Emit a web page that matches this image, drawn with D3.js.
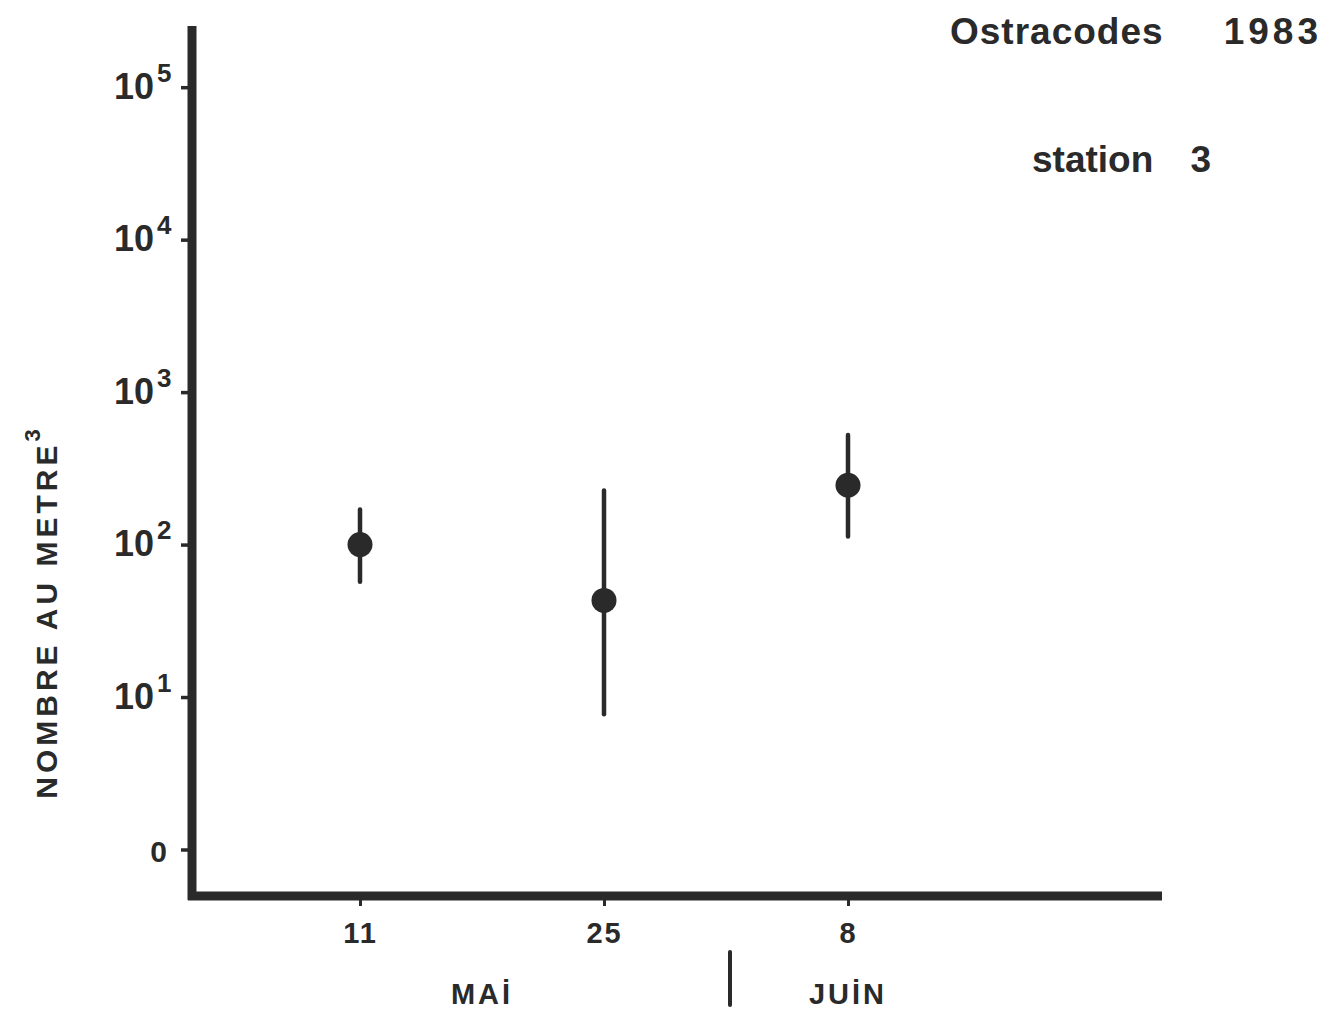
<!DOCTYPE html>
<html>
<head>
<meta charset="utf-8">
<script src="https://cdn.jsdelivr.net/npm/d3@7/dist/d3.min.js"></script>
<style>
  html, body { margin: 0; padding: 0; background: #fff; }
  svg { display: block; }
  text { fill: #2a2a2a; font-family: "Liberation Sans", Arial, sans-serif; font-weight: bold; }
</style>
</head>
<body>
<svg id="chart" width="1325" height="1013"></svg>
<script>
// Sampling dates (1983) and ostracod densities, individuals per m³
const sampleDates = [new Date(1983, 4, 11), new Date(1983, 4, 25), new Date(1983, 5, 8)];
const dateLabels = ["11", "25", "8"];
const meanValues = [100, 43, 245];
const lowValues = [57, 7.7, 113];
const highValues = [170, 226, 523];

// Log axis ticks; the lowest one is lettered "0"
const yTickValues = [1, 10, 100, 1000, 10000, 100000];
const yTickExponents = ["0", "1", "2", "3", "4", "5"];

// Month captions and the date where May turns into June
const monthNames = ["MAİ", "JUİN"];
const monthDates = [new Date(1983, 4, 18), new Date(1983, 5, 8)];
const monthBreak = new Date(1983, 5, 1);

const ink = "#2a2a2a";
const svg = d3.select("#chart");

const x = d3.scaleTime()
  .domain([sampleDates[0], sampleDates[2]])
  .range([360, 848]);

const y = d3.scaleLog()
  .domain([1, 100000])
  .range([849.5, 87.2]);

const axisLeftX = 192;
const axisBottomY = 896;

// Y ticks with power-of-ten labels
const yAxis = svg.append("g")
  .attr("transform", `translate(${axisLeftX},0)`)
  .call(d3.axisLeft(y).tickValues(yTickValues).tickSize(11).tickFormat(""));
yAxis.select(".domain").remove();
yAxis.selectAll(".tick line").attr("stroke", ink).attr("stroke-width", 3.5);

yAxis.selectAll(".tick").each(function(d, i) {
  const g = d3.select(this);
  if (i === 0) {
    g.append("text")
      .attr("x", -25).attr("y", 12)
      .attr("text-anchor", "end")
      .attr("font-size", 30)
      .text("0");
  } else {
    g.append("text")
      .attr("x", -38).attr("y", 11)
      .attr("text-anchor", "end")
      .attr("font-size", 36)
      .text("10");
    g.append("text")
      .attr("x", -35).attr("y", -6)
      .attr("text-anchor", "start")
      .attr("font-size", 26)
      .text(yTickExponents[i]);
  }
});

// X ticks and date labels
const xAxis = svg.append("g")
  .attr("transform", `translate(0,${axisBottomY})`)
  .call(d3.axisBottom(x).tickValues(sampleDates).tickSize(10).tickFormat(""));
xAxis.select(".domain").remove();
xAxis.selectAll(".tick line").attr("stroke", ink).attr("stroke-width", 3);
xAxis.selectAll(".tick").append("text")
  .attr("y", 47)
  .attr("text-anchor", "middle")
  .attr("font-size", 29)
  .attr("letter-spacing", 2)
  .text((d, i) => dateLabels[i]);

// Axis frame
svg.append("line")
  .attr("x1", axisLeftX).attr("x2", axisLeftX)
  .attr("y1", 26).attr("y2", axisBottomY + 4)
  .attr("stroke", ink).attr("stroke-width", 9);
svg.append("line")
  .attr("x1", axisLeftX - 4).attr("x2", 1162)
  .attr("y1", axisBottomY).attr("y2", axisBottomY)
  .attr("stroke", ink).attr("stroke-width", 9);

// Month captions and separator
svg.selectAll(".month")
  .data(monthNames)
  .join("text")
  .attr("class", "month")
  .attr("x", (d, i) => x(monthDates[i]))
  .attr("y", 1004)
  .attr("text-anchor", "middle")
  .attr("font-size", 29)
  .attr("letter-spacing", 3)
  .text(d => d);
svg.append("line")
  .attr("x1", x(monthBreak) + 4).attr("x2", x(monthBreak) + 4)
  .attr("y1", 952).attr("y2", 1005)
  .attr("stroke", ink).attr("stroke-width", 4)
  .attr("stroke-linecap", "round");

// Range bars and means
const samples = sampleDates.map((d, i) => ({
  date: d, mean: meanValues[i], low: lowValues[i], high: highValues[i]
}));
svg.selectAll(".range")
  .data(samples)
  .join("line")
  .attr("class", "range")
  .attr("x1", d => x(d.date)).attr("x2", d => x(d.date))
  .attr("y1", d => y(d.low)).attr("y2", d => y(d.high))
  .attr("stroke", ink).attr("stroke-width", 4.5)
  .attr("stroke-linecap", "round");
svg.selectAll(".mean")
  .data(samples)
  .join("circle")
  .attr("class", "mean")
  .attr("cx", d => x(d.date)).attr("cy", d => y(d.mean))
  .attr("r", 12.5)
  .attr("fill", ink);

// Y axis title
const yTitle = svg.append("text")
  .attr("transform", "translate(57,612) rotate(-90)")
  .attr("text-anchor", "middle")
  .attr("font-size", 30)
  .attr("letter-spacing", 4);
yTitle.append("tspan").text("NOMBRE AU METRE");
yTitle.append("tspan").attr("dy", -17).attr("font-size", 22).text("3");

// Heading
svg.append("text")
  .attr("x", 950).attr("y", 44)
  .attr("font-size", 37)
  .attr("letter-spacing", 1)
  .text("Ostracodes");
svg.append("text")
  .attr("x", 1322).attr("y", 44)
  .attr("text-anchor", "end")
  .attr("font-size", 37)
  .attr("letter-spacing", 4)
  .text("1983");
svg.append("text")
  .attr("x", 1032).attr("y", 172)
  .attr("font-size", 37)
  .attr("letter-spacing", 0)
  .text("station");
svg.append("text")
  .attr("x", 1211).attr("y", 172)
  .attr("text-anchor", "end")
  .attr("font-size", 37)
  .text("3");
</script>
</body>
</html>
